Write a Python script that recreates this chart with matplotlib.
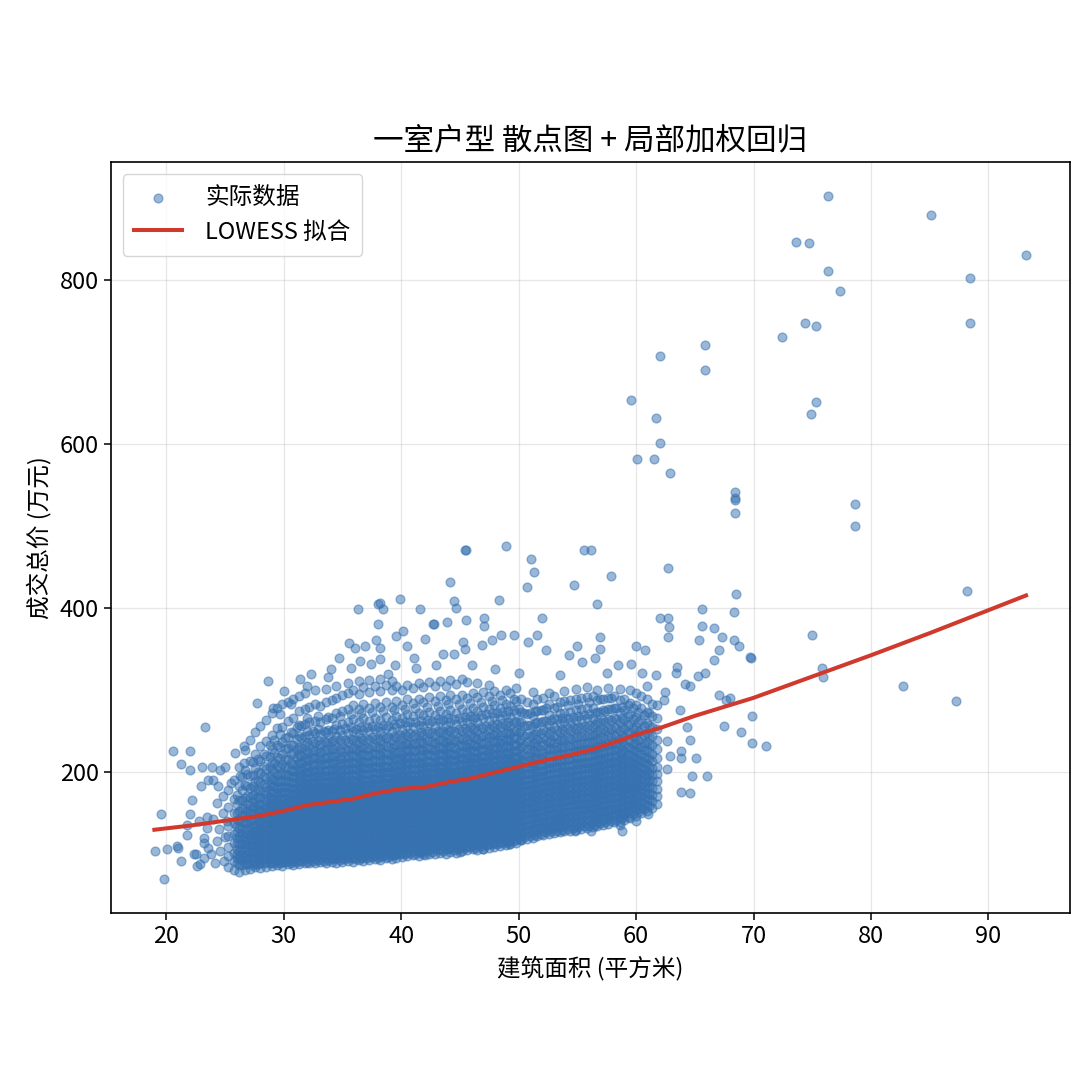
import matplotlib
matplotlib.use("Agg")
import matplotlib.pyplot as plt

plt.rcParams['font.family'] = ['Noto Sans CJK SC', 'DejaVu Sans']
plt.rcParams['axes.unicode_minus'] = False

# ---- dense cloud, set A: column x positions and the prices read in each column ----
cloud_area = [25.3, 25.8, 26.2, 26.7, 27.1, 27.6, 28.0, 28.5, 29.0, 29.4, 29.9, 30.4, 30.8,
              31.3, 31.8, 32.2, 32.7, 33.1, 33.6, 34.1, 34.5, 35.0, 35.5, 35.9, 36.4, 36.8,
              37.3, 37.8, 38.2, 38.7, 39.2, 39.6, 40.1, 40.5, 41.0, 41.5, 41.9, 42.4, 42.9,
              43.3, 43.8, 44.2, 44.7, 45.2, 45.6, 46.1, 46.5, 47.0, 47.5, 47.9, 48.4, 48.9,
              49.3, 49.8, 50.2, 50.7, 51.2, 51.6, 52.1, 52.6, 53.0, 53.5, 53.9, 54.4, 54.9,
              55.3, 55.8, 56.3, 56.7, 57.2, 57.6, 58.1, 58.6, 59.0, 59.5, 60.0, 60.4, 60.9,
              61.4, 61.8]

cloud_price = [
    [84, 97, 108, 121, 134, 157, 177],
    [80, 91, 101, 113, 124, 137, 150, 167, 190],
    [78, 86, 95, 103, 112, 121, 131, 141, 152, 165, 182, 205],
    [80, 87, 95, 104, 111, 120, 128, 137, 147, 156, 168, 184, 202, 226],
    [81, 88, 94, 102, 109, 116, 123, 132, 140, 149, 158, 169, 180, 194, 213, 239],
    [83, 89, 97, 103, 110, 115, 122, 128, 135, 143, 150, 158, 166, 177, 189, 204, 221, 248],
    [82, 88, 95, 101, 107, 113, 118, 125, 131, 138, 144, 152, 159, 168, 176, 187, 198, 213, 231, 256],
    [84, 90, 95, 101, 106, 112, 116, 122, 127, 133, 138, 145, 151, 157, 165, 173, 181, 192, 203, 219, 237, 263],
    [85, 90, 96, 101, 105, 111, 116, 120, 126, 131, 137, 142, 148, 153, 160, 166, 174, 183, 191, 202, 212, 228, 245, 271],
    [86, 92, 96, 102, 107, 111, 117, 121, 127, 132, 136, 142, 147, 153, 158, 165, 171, 179, 188, 196, 207, 218, 232, 253, 277],
    [85, 90, 95, 99, 105, 110, 114, 120, 125, 129, 135, 140, 144, 150, 156, 161, 168, 175, 181, 190, 198, 209, 222, 236, 255, 282],
    [87, 91, 97, 102, 106, 112, 117, 121, 127, 131, 137, 142, 146, 152, 157, 163, 168, 175, 181, 189, 196, 206, 215, 229, 242, 262, 285],
    [86, 91, 96, 100, 106, 110, 116, 121, 125, 131, 136, 140, 146, 151, 155, 161, 166, 173, 179, 186, 193, 201, 209, 221, 232, 247, 265, 289],
    [87, 92, 97, 101, 107, 112, 116, 122, 127, 131, 137, 142, 146, 152, 157, 161, 167, 172, 178, 184, 190, 197, 204, 212, 221, 230, 243, 257, 274, 292],
    [88, 93, 97, 103, 108, 112, 118, 123, 127, 133, 138, 142, 148, 153, 157, 163, 168, 173, 179, 185, 191, 198, 205, 213, 222, 232, 244, 258, 276, 296],
    [89, 94, 98, 104, 109, 113, 119, 124, 128, 134, 139, 143, 149, 154, 158, 164, 169, 174, 180, 186, 192, 199, 206, 214, 223, 233, 245, 260, 279],
    [88, 93, 98, 102, 108, 113, 117, 123, 128, 132, 138, 143, 147, 153, 158, 162, 168, 174, 180, 186, 193, 200, 208, 216, 225, 235, 247, 262, 282, 299],
    [90, 95, 99, 105, 110, 114, 120, 125, 129, 135, 140, 144, 150, 155, 159, 165, 170, 175, 181, 187, 193, 200, 207, 215, 224, 234, 246, 261, 280],
    [89, 94, 99, 103, 109, 114, 118, 124, 129, 133, 139, 144, 148, 154, 159, 163, 169, 175, 181, 187, 194, 201, 209, 217, 226, 236, 248, 264, 285, 301],
    [90, 95, 100, 104, 110, 115, 119, 125, 130, 134, 140, 145, 149, 155, 160, 164, 170, 176, 182, 188, 195, 202, 210, 218, 227, 237, 249, 265, 287],
    [89, 94, 98, 104, 109, 113, 119, 124, 128, 134, 139, 143, 149, 154, 158, 164, 169, 174, 180, 186, 192, 199, 206, 214, 223, 233, 244, 257, 272, 290, 304],
    [90, 95, 100, 105, 109, 115, 120, 124, 130, 135, 139, 145, 150, 154, 160, 165, 169, 175, 181, 187, 193, 200, 207, 215, 224, 234, 245, 258, 274, 293],
    [91, 96, 100, 106, 111, 115, 121, 126, 130, 136, 141, 145, 151, 156, 160, 166, 171, 176, 182, 188, 195, 202, 209, 217, 226, 236, 247, 260, 276, 296, 308],
    [90, 95, 101, 105, 110, 116, 120, 125, 131, 135, 140, 146, 150, 155, 161, 165, 170, 176, 182, 189, 196, 203, 211, 219, 228, 238, 250, 264, 281, 300],
    [92, 97, 101, 107, 112, 116, 122, 127, 131, 137, 142, 146, 152, 157, 161, 167, 172, 177, 183, 189, 195, 202, 209, 217, 226, 236, 247, 260, 276, 295, 310],
    [91, 96, 102, 106, 111, 117, 121, 126, 132, 136, 141, 147, 151, 156, 162, 166, 171, 177, 183, 190, 197, 204, 212, 220, 229, 239, 251, 265, 283, 303],
    [92, 97, 102, 107, 112, 117, 122, 127, 132, 137, 142, 147, 152, 157, 162, 167, 172, 178, 184, 190, 197, 204, 211, 219, 228, 238, 249, 262, 278, 297, 312],
    [93, 98, 103, 108, 113, 118, 123, 128, 133, 138, 143, 148, 153, 158, 163, 168, 173, 179, 185, 191, 198, 205, 213, 221, 230, 240, 252, 266, 284, 305],
    [92, 97, 103, 107, 112, 118, 122, 127, 133, 137, 142, 148, 152, 157, 163, 167, 172, 178, 184, 191, 197, 204, 212, 220, 229, 239, 250, 263, 279, 298, 313],
    [94, 99, 104, 109, 114, 119, 124, 129, 134, 139, 144, 149, 154, 159, 164, 169, 174, 180, 186, 192, 199, 206, 214, 222, 231, 241, 253, 267, 285, 306],
    [93, 98, 104, 108, 113, 119, 123, 128, 134, 138, 143, 149, 153, 158, 164, 168, 173, 179, 185, 191, 198, 205, 212, 220, 229, 239, 250, 263, 279, 299, 311],
    [95, 100, 105, 110, 115, 120, 125, 130, 135, 140, 145, 150, 155, 160, 165, 170, 175, 181, 187, 193, 200, 207, 215, 223, 232, 242, 254, 268, 286, 305],
    [96, 101, 106, 111, 116, 121, 126, 131, 136, 141, 146, 151, 156, 161, 166, 171, 176, 182, 188, 194, 200, 207, 214, 222, 231, 241, 252, 265, 281, 300],
    [97, 102, 107, 112, 117, 122, 127, 132, 137, 142, 147, 152, 157, 162, 167, 172, 177, 183, 189, 195, 202, 209, 217, 225, 234, 244, 256, 270, 288, 306],
    [98, 103, 108, 113, 118, 123, 128, 133, 138, 143, 148, 153, 158, 163, 168, 173, 178, 184, 190, 196, 203, 210, 217, 225, 234, 244, 255, 268, 284, 302],
    [97, 102, 108, 112, 117, 123, 127, 132, 138, 142, 147, 153, 157, 162, 168, 172, 177, 183, 189, 196, 203, 210, 218, 226, 235, 245, 257, 271, 289, 308],
    [99, 104, 109, 114, 119, 124, 129, 134, 139, 144, 149, 154, 159, 164, 169, 174, 179, 185, 191, 197, 204, 211, 218, 226, 235, 245, 256, 269, 285, 303],
    [100, 105, 110, 115, 120, 125, 130, 135, 140, 145, 150, 155, 160, 165, 170, 175, 180, 186, 192, 198, 205, 212, 220, 228, 237, 247, 259, 273, 291, 309],
    [99, 105, 110, 114, 120, 125, 129, 135, 140, 144, 150, 155, 159, 165, 170, 174, 180, 186, 192, 198, 204, 211, 218, 226, 235, 245, 256, 269, 286, 304],
    [101, 106, 111, 116, 121, 126, 131, 136, 141, 146, 151, 156, 161, 166, 171, 176, 181, 187, 193, 199, 206, 213, 221, 229, 238, 248, 260, 274, 292, 311],
    [100, 106, 111, 115, 121, 126, 130, 136, 141, 145, 151, 156, 160, 166, 171, 175, 181, 187, 193, 199, 205, 212, 219, 227, 236, 246, 257, 270, 287, 305],
    [102, 107, 112, 117, 122, 127, 132, 137, 142, 147, 152, 157, 162, 167, 172, 177, 182, 188, 194, 200, 207, 214, 222, 230, 239, 249, 261, 275, 293, 312],
    [101, 107, 112, 116, 122, 127, 131, 137, 142, 146, 152, 157, 161, 167, 172, 176, 182, 188, 194, 200, 206, 213, 220, 228, 237, 247, 258, 271, 288, 307],
    [103, 108, 113, 118, 123, 128, 133, 138, 143, 148, 153, 158, 163, 168, 173, 178, 183, 189, 195, 201, 208, 215, 223, 231, 240, 250, 262, 276, 294, 313],
    [104, 109, 114, 119, 124, 129, 134, 139, 144, 149, 154, 159, 164, 169, 174, 179, 184, 190, 196, 202, 208, 215, 222, 230, 239, 249, 260, 273, 290, 309],
    [105, 110, 115, 120, 125, 130, 135, 140, 145, 150, 155, 160, 165, 170, 175, 180, 185, 191, 197, 203, 210, 217, 225, 233, 242, 252, 264, 278, 296],
    [104, 110, 115, 119, 125, 130, 134, 140, 145, 149, 155, 160, 164, 170, 175, 179, 185, 191, 197, 203, 209, 216, 223, 231, 240, 250, 261, 274, 291, 308],
    [106, 111, 116, 121, 126, 131, 136, 141, 146, 151, 156, 161, 166, 171, 176, 181, 186, 192, 198, 204, 211, 218, 226, 234, 243, 253, 265, 279, 297],
    [107, 112, 117, 122, 127, 132, 137, 142, 147, 152, 157, 162, 167, 172, 177, 182, 187, 193, 199, 205, 211, 218, 225, 233, 242, 252, 263, 276, 292, 306],
    [108, 113, 118, 123, 128, 133, 138, 143, 148, 153, 158, 163, 168, 173, 178, 183, 188, 194, 200, 206, 213, 220, 228, 236, 245, 255, 267, 281, 298],
    [109, 114, 119, 124, 129, 134, 139, 144, 149, 154, 159, 164, 169, 174, 179, 184, 189, 195, 201, 207, 213, 220, 227, 235, 244, 254, 265, 278, 294],
    [110, 115, 120, 125, 130, 135, 140, 145, 150, 155, 160, 165, 170, 175, 180, 185, 190, 196, 202, 208, 215, 222, 230, 238, 247, 257, 269, 283, 300],
    [111, 116, 121, 126, 131, 136, 141, 146, 151, 156, 161, 166, 171, 176, 181, 186, 191, 197, 203, 209, 215, 222, 229, 237, 246, 256, 267, 280, 296],
    [113, 118, 123, 128, 133, 138, 143, 148, 153, 158, 163, 168, 173, 178, 183, 188, 193, 199, 205, 211, 218, 225, 233, 241, 250, 260, 272, 286, 302],
    [116, 122, 128, 134, 140, 146, 152, 158, 164, 170, 176, 182, 188, 194, 200, 207, 214, 222, 230, 239, 249, 260, 273, 289],
    [118, 124, 130, 136, 142, 148, 154, 160, 166, 172, 178, 184, 190, 197, 204, 211, 219, 227, 236, 246, 257, 270, 285],
    [119, 125, 131, 137, 143, 149, 155, 161, 167, 173, 179, 185, 191, 197, 204, 211, 218, 226, 235, 245, 256, 268, 282, 297],
    [121, 127, 133, 139, 145, 151, 157, 163, 169, 175, 181, 187, 194, 201, 208, 215, 223, 231, 240, 250, 261, 274, 289],
    [122, 128, 134, 140, 146, 152, 158, 164, 170, 176, 182, 188, 194, 201, 208, 215, 223, 232, 241, 251, 262, 275, 290],
    [124, 130, 136, 142, 148, 154, 160, 166, 172, 178, 184, 190, 197, 204, 211, 219, 227, 236, 246, 257, 269, 283, 296],
    [125, 131, 137, 143, 149, 155, 161, 167, 173, 179, 185, 191, 198, 205, 212, 219, 227, 235, 244, 254, 265, 278, 292],
    [126, 132, 138, 144, 150, 156, 162, 168, 174, 180, 186, 192, 199, 206, 213, 221, 229, 238, 248, 259, 271, 285],
    [127, 133, 139, 145, 151, 157, 163, 169, 175, 181, 187, 193, 200, 207, 214, 222, 230, 239, 249, 260, 272, 286, 298],
    [128, 134, 140, 146, 152, 158, 164, 170, 176, 182, 188, 194, 201, 208, 215, 223, 231, 240, 250, 261, 273, 287],
    [129, 135, 141, 147, 153, 159, 165, 171, 177, 183, 189, 196, 203, 210, 217, 225, 233, 242, 252, 263, 275, 289, 301],
    [130, 136, 142, 148, 154, 160, 166, 172, 178, 184, 190, 197, 204, 211, 218, 226, 234, 243, 253, 264, 276, 290],
    [131, 137, 143, 149, 155, 161, 167, 173, 179, 185, 191, 198, 205, 212, 219, 227, 235, 244, 254, 265, 277, 291, 303],
    [132, 138, 144, 150, 156, 162, 168, 174, 180, 186, 192, 199, 206, 213, 220, 228, 236, 245, 255, 266, 278, 292],
    [133, 139, 145, 151, 157, 163, 169, 175, 181, 187, 194, 201, 208, 215, 223, 231, 240, 250, 261, 273, 287, 300],
    [135, 141, 147, 153, 159, 165, 171, 177, 183, 189, 196, 203, 210, 217, 225, 233, 242, 252, 263, 275, 289],
    [136, 142, 148, 154, 160, 166, 172, 178, 184, 190, 197, 204, 211, 218, 226, 234, 243, 253, 264, 276, 290, 302],
    [138, 144, 150, 156, 162, 168, 174, 180, 186, 192, 199, 206, 213, 220, 228, 236, 245, 255, 266, 278, 292],
    [139, 145, 151, 157, 163, 169, 175, 181, 187, 194, 201, 208, 215, 223, 231, 240, 250, 261, 273, 287, 301],
    [141, 147, 153, 159, 165, 171, 177, 183, 189, 196, 203, 210, 217, 225, 233, 242, 252, 263, 275, 289],
    [143, 149, 155, 161, 167, 173, 179, 185, 191, 198, 205, 212, 220, 228, 237, 247, 258, 270, 284, 299],
    [146, 153, 160, 167, 174, 181, 188, 195, 202, 209, 217, 225, 234, 244, 255, 267, 281, 296],
    [149, 156, 163, 170, 177, 184, 191, 198, 205, 213, 221, 230, 240, 251, 263, 277, 292],
    [152, 159, 166, 173, 180, 187, 194, 201, 209, 217, 226, 236, 247, 259, 273, 288, 304],
    [156, 164, 172, 180, 188, 196, 204, 213, 222, 232, 243, 255, 268, 283],
    [161, 170, 179, 188, 197, 206, 216, 227, 239, 252, 266, 281],
]

# ---- dense cloud, set B: in-between columns of the solid core ----
core_area = [26.0, 26.5, 26.9, 27.4, 27.8, 28.3, 28.8, 29.2, 29.7, 30.1, 30.6, 31.1, 31.5,
             32.0, 32.5, 32.9, 33.4, 33.8, 34.3, 34.8, 35.2, 35.7, 36.2, 36.6, 37.1, 37.5,
             38.0, 38.5, 38.9, 39.4, 39.9, 40.3, 40.8, 41.2, 41.7, 42.2, 42.6, 43.1, 43.6,
             44.0, 44.5, 44.9, 45.4, 45.9, 46.3, 46.8, 47.2, 47.7, 48.2, 48.6, 49.1, 49.6,
             50.0, 50.5, 51.0, 51.4, 51.9, 52.3, 52.8, 53.3, 53.7, 54.2, 54.6, 55.1, 55.6,
             56.0, 56.5, 56.9, 57.4, 57.9, 58.3, 58.8, 59.3, 59.7, 60.2, 60.7, 61.1]

core_price = [
    [88, 94, 100, 106, 113, 119, 126, 133, 141, 150, 160, 172],
    [86, 92, 98, 105, 111, 118, 124, 131, 138, 146, 155, 165, 178, 193],
    [87, 93, 99, 105, 111, 117, 124, 130, 137, 144, 152, 160, 170, 182, 197],
    [86, 92, 98, 104, 110, 116, 122, 128, 134, 141, 148, 155, 163, 172, 183, 196, 212],
    [87, 93, 99, 105, 111, 117, 123, 129, 135, 141, 147, 154, 161, 169, 178, 188, 200, 215],
    [88, 94, 100, 106, 112, 118, 124, 130, 136, 142, 148, 154, 161, 168, 176, 185, 195, 207, 222],
    [89, 95, 101, 107, 113, 119, 125, 131, 137, 143, 149, 155, 162, 169, 177, 185, 194, 205, 218, 233],
    [88, 94, 100, 106, 112, 118, 124, 130, 136, 142, 148, 154, 160, 167, 174, 182, 190, 199, 210, 223, 239],
    [89, 95, 101, 107, 113, 119, 125, 131, 137, 143, 149, 155, 161, 167, 174, 181, 189, 197, 206, 217, 230, 246],
    [90, 96, 102, 108, 114, 120, 126, 132, 138, 144, 150, 156, 162, 168, 174, 181, 188, 196, 205, 215, 227, 241],
    [89, 95, 101, 107, 113, 119, 125, 131, 137, 143, 149, 155, 161, 167, 173, 180, 187, 194, 202, 211, 221, 233, 248],
    [90, 96, 102, 108, 114, 120, 126, 132, 138, 144, 150, 156, 162, 168, 174, 180, 187, 194, 201, 209, 218, 228, 240, 254],
    [91, 97, 103, 109, 115, 121, 127, 133, 139, 145, 151, 157, 163, 169, 175, 181, 188, 195, 202, 210, 219, 229, 241, 256],
    [90, 96, 102, 108, 114, 120, 126, 132, 138, 144, 150, 156, 162, 168, 174, 180, 186, 193, 200, 208, 216, 225, 236, 249, 265],
    [91, 97, 103, 109, 115, 121, 127, 133, 139, 145, 151, 157, 163, 169, 175, 181, 187, 194, 201, 209, 217, 226, 237, 250],
    [92, 98, 104, 110, 116, 122, 128, 134, 140, 146, 152, 158, 164, 170, 176, 182, 188, 195, 202, 210, 218, 227, 238, 252, 268],
    [91, 97, 103, 109, 115, 121, 127, 133, 139, 145, 151, 157, 163, 169, 175, 181, 187, 194, 201, 209, 217, 226, 237, 250],
    [92, 98, 104, 110, 116, 122, 128, 134, 140, 146, 152, 158, 164, 170, 176, 182, 188, 195, 202, 210, 218, 227, 238, 251, 267],
    [93, 99, 105, 111, 117, 123, 129, 135, 141, 147, 153, 159, 165, 171, 177, 183, 189, 196, 203, 211, 219, 228, 239, 252],
    [92, 98, 104, 110, 116, 122, 128, 134, 140, 146, 152, 158, 164, 170, 176, 182, 188, 195, 202, 210, 218, 227, 238, 251, 268],
    [93, 99, 105, 111, 117, 123, 129, 135, 141, 147, 153, 159, 165, 171, 177, 183, 189, 196, 203, 211, 219, 228, 239, 253],
    [94, 100, 106, 112, 118, 124, 130, 136, 142, 148, 154, 160, 166, 172, 178, 184, 190, 197, 204, 212, 220, 229, 240, 254, 270],
    [93, 99, 105, 111, 117, 123, 129, 135, 141, 147, 153, 159, 165, 171, 177, 183, 189, 196, 203, 211, 219, 228, 239, 252],
    [95, 101, 107, 113, 119, 125, 131, 137, 143, 149, 155, 161, 167, 173, 179, 185, 191, 198, 205, 213, 221, 230, 241, 255, 271],
    [94, 100, 106, 112, 118, 124, 130, 136, 142, 148, 154, 160, 166, 172, 178, 184, 190, 197, 204, 212, 220, 229, 240, 254],
    [96, 102, 108, 114, 120, 126, 132, 138, 144, 150, 156, 162, 168, 174, 180, 186, 192, 199, 206, 214, 222, 231, 242, 256, 273],
    [95, 101, 107, 113, 119, 125, 131, 137, 143, 149, 155, 161, 167, 173, 179, 185, 191, 198, 205, 213, 221, 230, 241, 255],
    [97, 103, 109, 115, 121, 127, 133, 139, 145, 151, 157, 163, 169, 175, 181, 187, 193, 200, 207, 215, 223, 232, 243, 257, 274],
    [96, 102, 108, 114, 120, 126, 132, 138, 144, 150, 156, 162, 168, 174, 180, 186, 192, 199, 206, 214, 222, 231, 242, 256],
    [98, 104, 110, 116, 122, 128, 134, 140, 146, 152, 158, 164, 170, 176, 182, 188, 194, 201, 208, 216, 224, 233, 244, 258, 275],
    [99, 105, 111, 117, 123, 129, 135, 141, 147, 153, 159, 165, 171, 177, 183, 189, 195, 202, 209, 217, 225, 234, 245, 259],
    [100, 106, 112, 118, 124, 130, 136, 142, 148, 154, 160, 166, 172, 178, 184, 190, 196, 203, 210, 218, 226, 235, 246, 260, 276],
    [101, 107, 113, 119, 125, 131, 137, 143, 149, 155, 161, 167, 173, 179, 185, 191, 197, 204, 211, 219, 227, 236, 247, 261],
    [100, 106, 112, 118, 124, 130, 136, 142, 148, 154, 160, 166, 172, 178, 184, 190, 196, 203, 210, 218, 226, 235, 246, 260, 277],
    [102, 108, 114, 120, 126, 132, 138, 144, 150, 156, 162, 168, 174, 180, 186, 192, 198, 205, 212, 220, 228, 237, 248, 262],
    [103, 109, 115, 121, 127, 133, 139, 145, 151, 157, 163, 169, 175, 181, 187, 193, 199, 206, 213, 221, 229, 238, 249, 263, 279],
    [102, 108, 114, 120, 126, 132, 138, 144, 150, 156, 162, 168, 174, 180, 186, 192, 198, 205, 212, 220, 228, 237, 248, 262],
    [104, 110, 116, 122, 128, 134, 140, 146, 152, 158, 164, 170, 176, 182, 188, 194, 200, 207, 214, 222, 230, 239, 250, 264, 280],
    [103, 109, 115, 121, 127, 133, 139, 145, 151, 157, 163, 169, 175, 181, 187, 193, 199, 206, 213, 221, 229, 238, 249, 263],
    [105, 111, 117, 123, 129, 135, 141, 147, 153, 159, 165, 171, 177, 183, 189, 195, 201, 208, 215, 223, 231, 240, 251, 265, 282],
    [104, 110, 116, 122, 128, 134, 140, 146, 152, 158, 164, 170, 176, 182, 188, 194, 200, 207, 214, 222, 230, 239, 250, 264],
    [106, 112, 118, 124, 130, 136, 142, 148, 154, 160, 166, 172, 178, 184, 190, 196, 202, 209, 216, 224, 232, 241, 252, 266, 283],
    [107, 113, 119, 125, 131, 137, 143, 149, 155, 161, 167, 173, 179, 185, 191, 197, 203, 210, 217, 225, 233, 242, 253, 267],
    [108, 114, 120, 126, 132, 138, 144, 150, 156, 162, 168, 174, 180, 186, 192, 198, 204, 211, 218, 226, 234, 243, 254, 268, 284],
    [107, 113, 119, 125, 131, 137, 143, 149, 155, 161, 167, 173, 179, 185, 191, 197, 203, 210, 217, 225, 233, 242, 253, 267],
    [109, 115, 121, 127, 133, 139, 145, 151, 157, 163, 169, 175, 181, 187, 193, 199, 205, 212, 219, 227, 235, 244, 255, 269, 285],
    [110, 116, 122, 128, 134, 140, 146, 152, 158, 164, 170, 176, 182, 188, 194, 200, 206, 213, 220, 228, 236, 245, 256, 270],
    [111, 117, 123, 129, 135, 141, 147, 153, 159, 165, 171, 177, 183, 189, 195, 201, 207, 214, 221, 229, 237, 246, 257, 271, 286],
    [112, 118, 124, 130, 136, 142, 148, 154, 160, 166, 172, 178, 184, 190, 196, 202, 208, 215, 222, 230, 238, 247, 258, 272],
    [113, 119, 125, 131, 137, 143, 149, 155, 161, 167, 173, 179, 185, 191, 197, 203, 209, 216, 223, 231, 239, 248, 259, 273, 287],
    [114, 120, 126, 132, 138, 144, 150, 156, 162, 168, 174, 180, 186, 192, 198, 204, 210, 217, 224, 232, 240, 249, 260, 274],
    [115, 121, 127, 133, 139, 145, 151, 157, 163, 169, 175, 181, 187, 193, 199, 205, 211, 218, 225, 233, 241, 250, 261, 275, 288],
    [118, 125, 132, 139, 146, 153, 160, 167, 174, 181, 188, 195, 202, 210, 218, 227, 237, 248, 261, 276],
    [120, 127, 134, 141, 148, 155, 162, 169, 176, 183, 190, 197, 205, 213, 222, 232, 243, 256, 271],
    [121, 128, 135, 142, 149, 156, 163, 170, 177, 184, 191, 198, 206, 214, 223, 233, 244, 257, 272],
    [123, 130, 137, 144, 151, 158, 165, 172, 179, 186, 193, 200, 208, 216, 225, 235, 246, 259, 274],
    [124, 131, 138, 145, 152, 159, 166, 173, 180, 187, 194, 201, 209, 217, 226, 236, 247, 260, 275],
    [126, 133, 140, 147, 154, 161, 168, 175, 182, 189, 196, 203, 211, 219, 228, 238, 249, 262, 277],
    [127, 134, 141, 148, 155, 162, 169, 176, 183, 190, 197, 204, 212, 220, 229, 239, 250, 263],
    [128, 135, 142, 149, 156, 163, 170, 177, 184, 191, 198, 205, 213, 221, 230, 240, 251, 264, 279],
    [129, 136, 143, 150, 157, 164, 171, 178, 185, 192, 199, 206, 214, 222, 231, 241, 252, 265],
    [130, 137, 144, 151, 158, 165, 172, 179, 186, 193, 200, 207, 215, 223, 232, 242, 253, 266, 281],
    [131, 138, 145, 152, 159, 166, 173, 180, 187, 194, 201, 208, 216, 224, 233, 243, 254, 267],
    [132, 139, 146, 153, 160, 167, 174, 181, 188, 195, 202, 209, 217, 225, 234, 244, 255, 268, 283],
    [133, 140, 147, 154, 161, 168, 175, 182, 189, 196, 203, 210, 218, 226, 235, 245, 256, 269],
    [134, 141, 148, 155, 162, 169, 176, 183, 190, 197, 204, 211, 219, 227, 236, 246, 257, 270, 285],
    [135, 142, 149, 156, 163, 170, 177, 184, 191, 198, 205, 212, 220, 228, 237, 247, 258, 271],
    [137, 144, 151, 158, 165, 172, 179, 186, 193, 200, 207, 214, 222, 230, 239, 249, 260, 273, 288],
    [138, 145, 152, 159, 166, 173, 180, 187, 194, 201, 208, 215, 223, 231, 240, 250, 261, 274],
    [140, 147, 154, 161, 168, 175, 182, 189, 196, 203, 210, 217, 225, 233, 242, 252, 263, 276, 290],
    [141, 148, 155, 162, 169, 176, 183, 190, 197, 204, 211, 218, 226, 234, 243, 253, 264, 277],
    [143, 150, 157, 164, 171, 178, 185, 192, 199, 206, 213, 220, 228, 236, 245, 255, 266, 279],
    [145, 152, 159, 166, 173, 180, 187, 194, 201, 208, 215, 222, 230, 238, 247, 257, 268, 281],
    [148, 155, 162, 169, 176, 183, 190, 197, 204, 211, 218, 226, 234, 243, 253, 264, 277],
    [151, 158, 165, 172, 179, 186, 193, 200, 207, 214, 222, 230, 239, 249, 260, 273],
    [154, 161, 168, 175, 182, 189, 196, 203, 210, 218, 226, 235, 245, 256, 269],
    [158, 166, 174, 182, 190, 198, 206, 215, 224, 234, 245, 257, 271],
]

# ---- scattered points read individually ----
sparse_area = [
    76.3, 85.1, 73.6, 74.7, 93.2, 76.3, 88.4, 77.4, 74.4, 75.3, 88.4, 72.4, 65.9, 62.0, 65.9,
    59.6, 75.3, 74.9, 61.7, 62.0, 60.1, 61.5, 62.9, 68.4, 68.4, 68.4, 68.4, 78.6, 78.6, 56.2,
    88.2, 82.7, 87.2, 75.0, 75.8, 75.9,
    68.5, 68.3, 67.3, 67.1, 68.3, 68.8, 69.7, 69.8, 67.5, 67.1, 67.7, 68.9, 69.9, 69.9, 71.1,
    68.0, 64.8, 66.0, 64.6, 65.9, 65.3, 66.6, 65.4, 64.6, 63.7, 64.3, 64.6, 65.1, 62.7, 65.6,
    65.6, 66.6, 62.0, 62.7, 62.8, 63.5, 63.4, 64.2, 62.6, 63.8, 63.8, 62.9, 62.6, 63.8, 62.5,
    62.4, 61.7, 60.8, 60.0, 62.7, 59.6, 58.5,
    45.4, 45.5, 48.9, 55.6, 44.2, 51.1, 51.3, 50.7, 54.7, 57.9, 48.3, 44.5, 44.7, 56.7, 42.8,
    43.9, 45.5, 47.1, 47.1, 52.0, 45.3, 46.9, 47.7, 48.5, 49.6, 50.8, 51.6, 52.3, 43.6, 44.5,
    45.4, 56.9, 55.0, 54.3, 56.9, 56.5, 55.4, 39.9, 38.0, 38.2, 38.5, 36.3, 38.0, 35.6, 36.1,
    36.9, 37.9, 38.2, 39.6, 40.2, 40.5, 35.7, 36.5, 37.4, 38.2, 38.9, 41.1, 42.7, 41.3, 31.4,
    32.3, 33.8, 34.7, 29.1, 29.7, 30.6, 27.7, 28.7, 41.6, 42.0, 43.0, 46.0, 48.0, 50.0, 53.5,
    57.5, 60.5, 39.5, 34.0, 32.0, 30.0,
    49.2, 50.2, 52.4, 54.8, 56.2, 58.8, 58.6, 48.6, 53.3, 61.0, 60.0, 47.0, 45.0, 42.0,
    19.55, 19.06, 20.06, 19.84, 20.6, 22.0, 21.25, 22.0, 23.3, 22.2, 22.0, 20.96, 21.25, 22.5,
    22.9, 23.2, 23.5, 23.04, 23.9, 24.6, 24.4, 23.0, 24.3, 25.5, 25.0, 26.3, 25.9, 26.6, 26.6,
    21.05, 22.33, 23.2, 23.8, 24.3, 24.6, 24.9, 23.2, 23.6, 22.6, 24.2, 21.8, 23.5, 21.8, 22.8,
    24.0, 24.8, 24.5, 25.0, 24.8, 24.0, 23.6, 25.2,
]
sparse_price = [
    902, 879, 847, 845, 831, 811, 802, 786, 748, 744, 748, 730, 721, 707, 690,
    653, 651, 637, 631, 601, 581, 581, 565, 541, 534, 531, 516, 527, 500, 470,
    421, 304, 286, 367, 326, 316,
    417, 395, 364, 349, 360, 353, 340, 339, 256, 294, 287, 248, 268, 235, 231,
    290, 195, 194, 174, 320, 317, 336, 360, 305, 275, 254, 238, 217, 448, 398,
    378, 375, 388, 388, 376, 328, 320, 307, 237, 225, 217, 219, 203, 175, 297,
    287, 318, 349, 353, 364, 331, 330,
    470, 471, 475, 471, 432, 460, 444, 425, 428, 439, 410, 408, 400, 405, 380,
    382, 385, 388, 378, 388, 358, 354, 361, 367, 367, 358, 367, 349, 344, 344,
    350, 364, 353, 342, 350, 339, 334, 411, 404, 406, 398, 398, 380, 357, 351,
    353, 360, 351, 366, 372, 353, 327, 335, 331, 337, 319, 339, 380, 327, 313,
    319, 315, 339, 278, 270, 282, 284, 310, 398, 362, 330, 330, 325, 320, 318,
    320, 320, 330, 325, 305, 298,
    112, 116, 131, 127, 127, 127, 135, 123, 140, 148, 140, 105, 102, 98,
    148, 103, 105, 69, 225, 225, 209, 202, 255, 165, 148, 109, 91, 99,
    87, 113, 145, 206, 206, 202, 182, 182, 162, 186, 206, 194, 223, 231, 210,
    107, 99, 95, 99, 115, 103, 91, 119, 107, 85, 89, 123, 131, 135, 140,
    142, 150, 130, 120, 170, 190, 190, 140,
]

# ---- LOWESS fitted curve ----
lowess_area = [19.0, 22, 25, 28, 30, 32, 34, 36, 38, 40, 42, 44, 46, 48, 50, 52, 54, 56, 58,
               60, 62, 65, 70, 75, 80, 85, 90, 93.2]
lowess_price = [129, 134, 140, 146, 152, 159, 163, 167, 174, 179, 181, 187, 192, 199, 206, 213,
                219, 226, 235, 245, 253, 268, 290, 316, 342, 369, 397, 415]

x_ticks = [20, 30, 40, 50, 60, 70, 80, 90]
y_ticks = [200, 400, 600, 800]

title = '一室户型 散点图 + 局部加权回归'
xlabel = '建筑面积 (平方米)'
ylabel = '成交总价 (万元)'
legend_labels = ['实际数据', 'LOWESS 拟合']

# ---- assemble ----
area = []
price = []
for xv, ys in zip(cloud_area, cloud_price):
    area.extend([xv] * len(ys))
    price.extend(ys)
for xv, ys in zip(core_area, core_price):
    area.extend([xv] * len(ys))
    price.extend(ys)
area.extend(sparse_area)
price.extend(sparse_price)

fig = plt.figure(figsize=(10.8, 10.8), dpi=100)
ax = fig.add_axes([0.1026, 0.1546, 0.8878, 0.6951])

ax.scatter(area, price, s=40, color='#3671b0', alpha=0.5, linewidths=1.0,
           label=legend_labels[0], zorder=2)
ax.plot(lowess_area, lowess_price, color='#d03a2e', lw=2.9, label=legend_labels[1], zorder=3)

ax.set_xticks(x_ticks)
ax.set_yticks(y_ticks)
ax.tick_params(labelsize=17, length=5, width=1.1)
ax.set_title(title, fontsize=22, pad=9)
ax.set_xlabel(xlabel, fontsize=17, labelpad=6)
ax.set_ylabel(ylabel, fontsize=17, labelpad=6)
ax.grid(True, alpha=0.3, lw=0.9)
ax.set_axisbelow(True)
for sp in ax.spines.values():
    sp.set_linewidth(1.2)

leg = ax.legend(loc='upper left', fontsize=17, scatterpoints=1, frameon=True,
                borderpad=0.5, handlelength=2.0, handletextpad=1.0)
leg.get_frame().set_edgecolor('#cccccc')

fig.savefig('out.png', dpi=100)
